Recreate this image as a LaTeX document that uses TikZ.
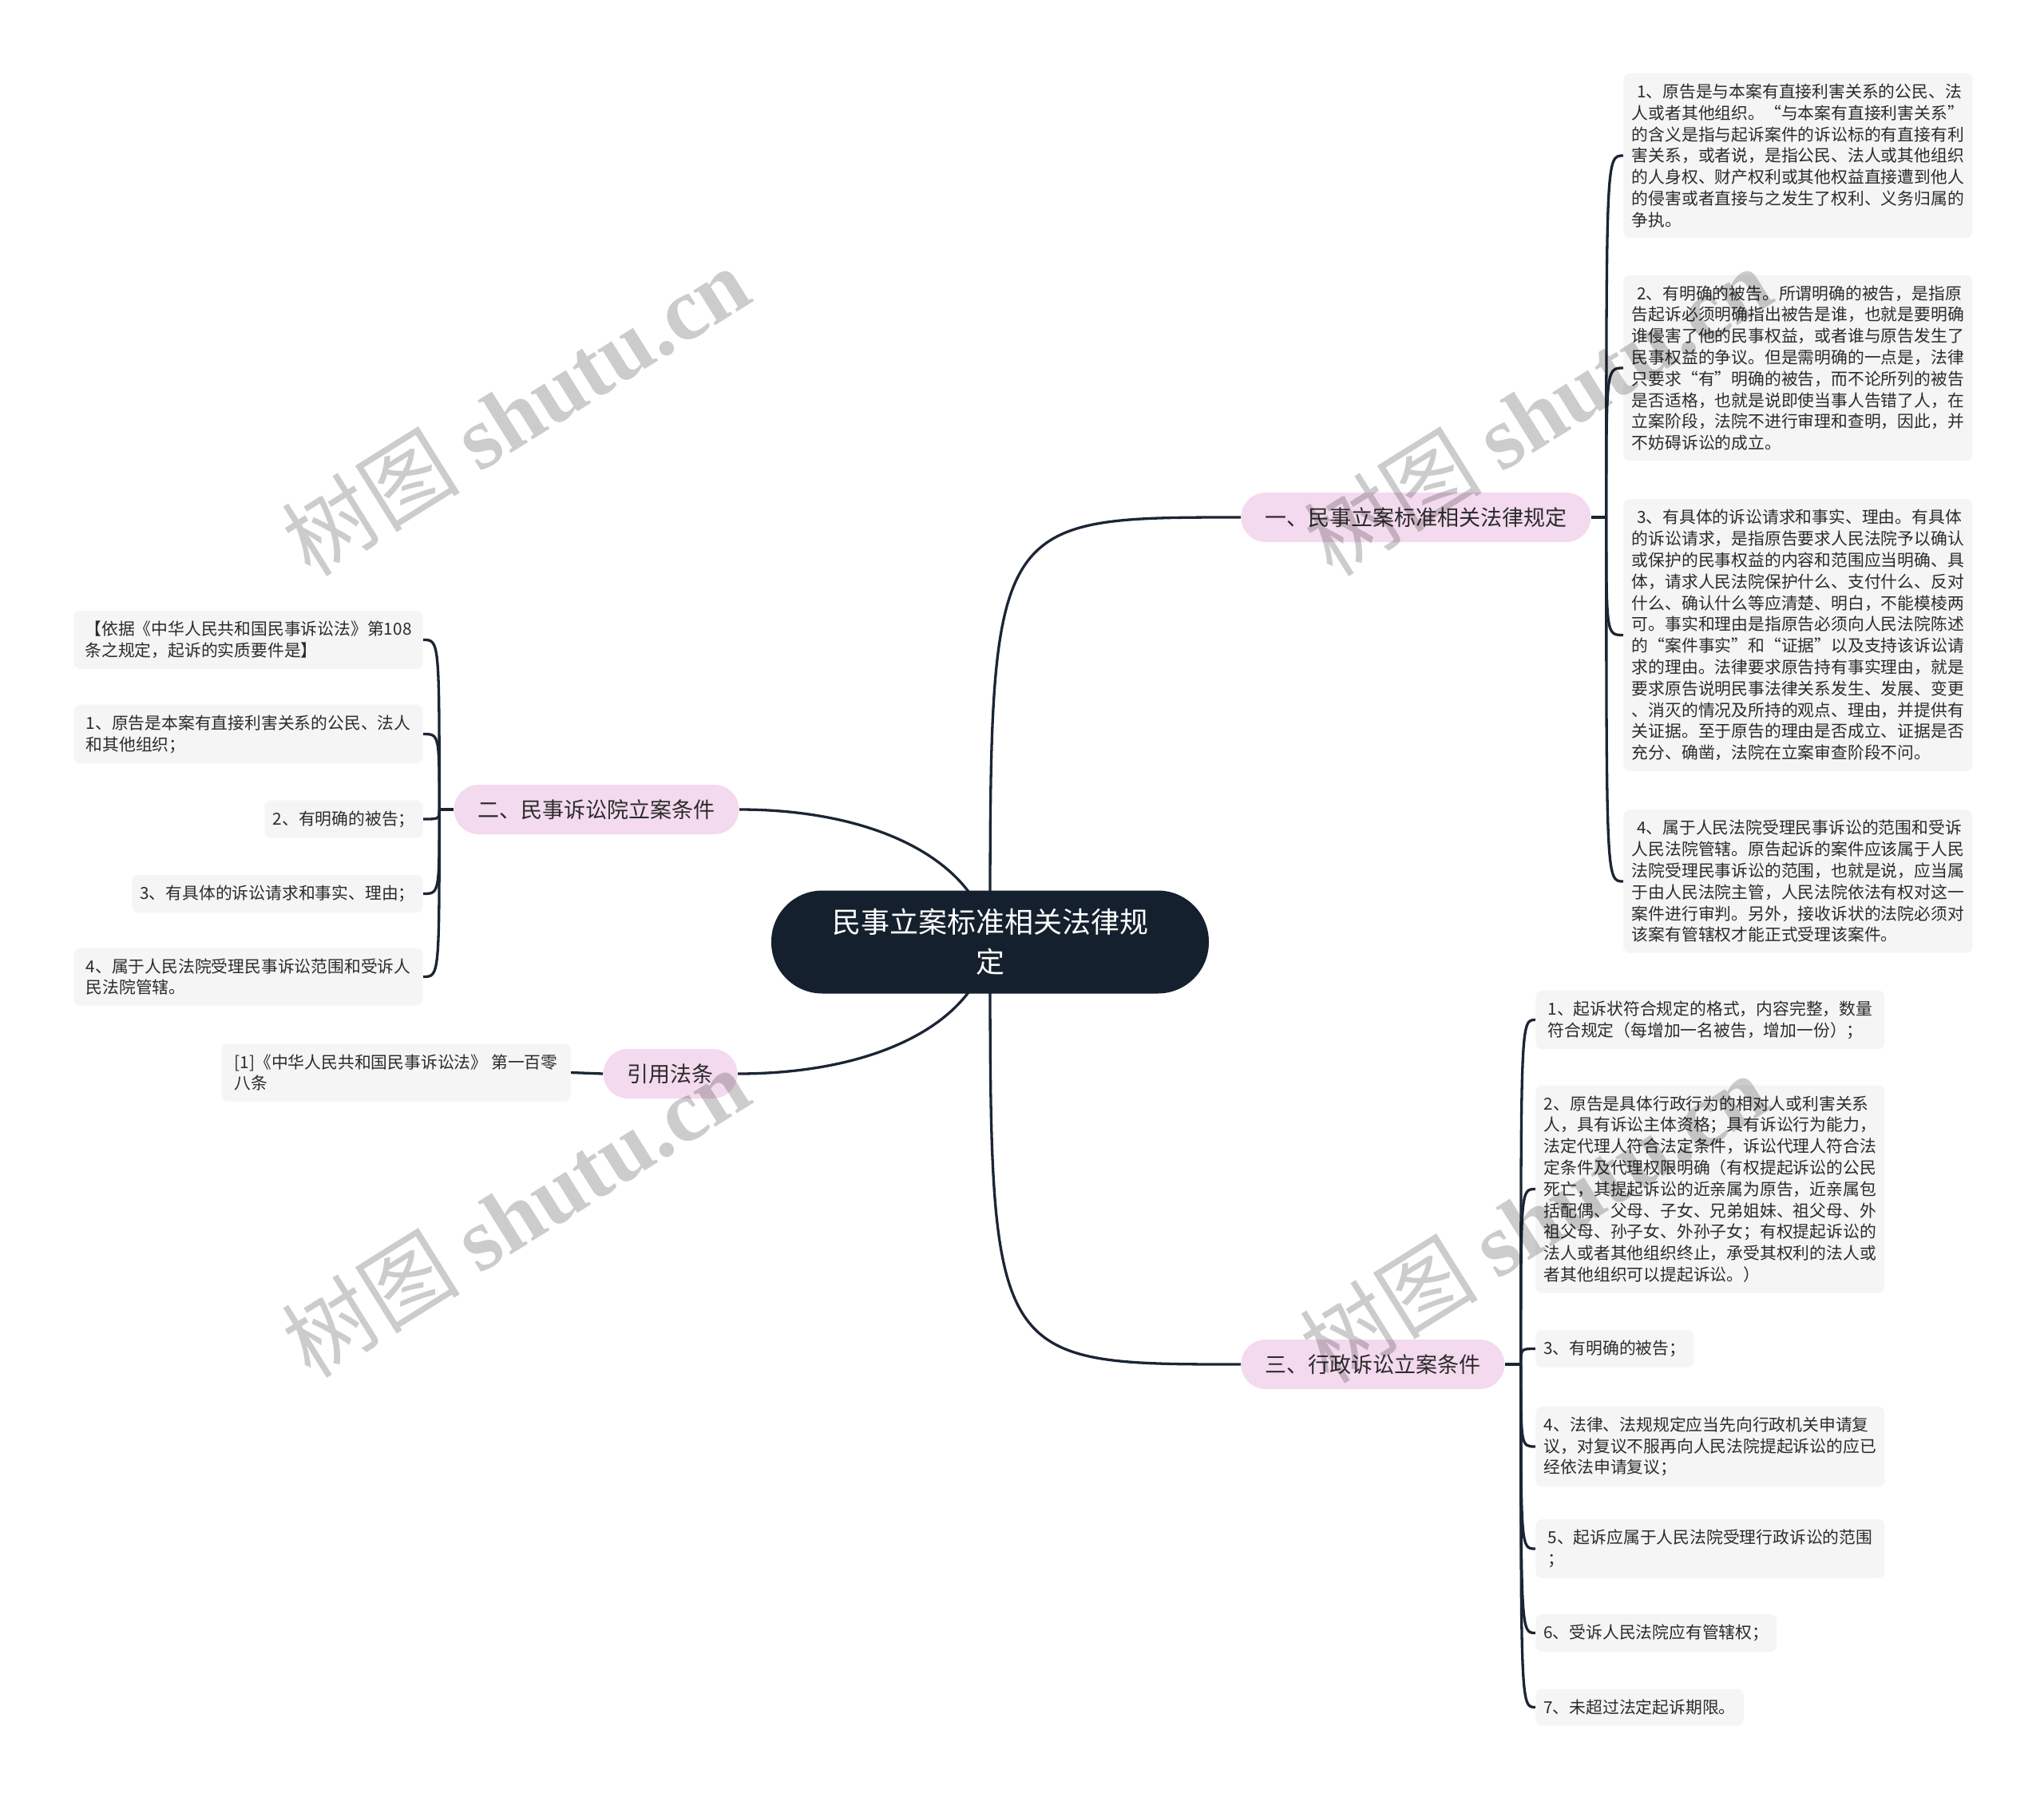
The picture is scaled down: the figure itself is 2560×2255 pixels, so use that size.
\documentclass[tikz,border=0pt]{standalone}
\usepackage{fontspec}
\setmainfont{Noto Sans CJK SC}
\newfontfamily\wmlatin{Liberation Serif}
\usetikzlibrary{calc,backgrounds}
\definecolor{rootnavy}{HTML}{15202E}
\definecolor{branchpink}{HTML}{F4DAEE}
\definecolor{leafgray}{HTML}{F5F5F5}
\definecolor{linecol}{HTML}{1B2535}
\definecolor{txt}{HTML}{2B2B2B}
\begin{document}
\begin{tikzpicture}[x=0.5pt,y=-0.5pt,
  root/.style={fill=rootnavy, rounded corners=32pt, minimum width=274pt, minimum height=64.5pt,
    align=center, text=white, font=\fontsize{18pt}{25pt}\selectfont},
  branch/.style={fill=branchpink, rounded corners=15.5pt, minimum height=31pt, inner xsep=15pt,
    inner ysep=0pt, text=txt, font=\fontsize{13.5pt}{16pt}\selectfont},
  leaf/.style={fill=leafgray, rounded corners=4pt, inner xsep=5pt, inner ysep=6.5pt, align=left,
    text=txt, font=\fontsize{10.4pt}{13.4pt}\selectfont},
  leafw/.style={minimum width=218.5pt},
  conn/.style={draw=linecol, line width=1.65pt},
  wm/.style={text=black, opacity=0.2, rotate=32, font=\fontsize{56pt}{64pt}\selectfont}
]
\useasboundingbox (0,0) rectangle (2560,2255);

% root and main branches
\node[root] (root) at (1240,1180) {民事立案标准相关法律规\\定};
\node[branch, anchor=west] (b1) at (1554,648) {一、民事立案标准相关法律规定};
\node[branch, anchor=east] (b2) at (926,1014) {二、民事诉讼院立案条件};
\node[branch, anchor=east] (b4) at (924,1345) {引用法条};
\node[branch, anchor=west] (b3) at (1554,1709) {三、行政诉讼立案条件};

% branch 1 leaves
\node[leaf, leafw, anchor=west] (l1a) at (2033,195) {\hspace*{0.3em}1、原告是与本案有直接利害关系的公民、法\\人或者其他组织。“与本案有直接利害关系”\\的含义是指与起诉案件的诉讼标的有直接有利\\害关系，或者说，是指公民、法人或其他组织\\的人身权、财产权利或其他权益直接遭到他人\\的侵害或者直接与之发生了权利、义务归属的\\争执。};
\node[leaf, leafw, anchor=west] (l1b) at (2033,461) {\hspace*{0.3em}2、有明确的被告。所谓明确的被告，是指原\\告起诉必须明确指出被告是谁，也就是要明确\\谁侵害了他的民事权益，或者谁与原告发生了\\民事权益的争议。但是需明确的一点是，法律\\只要求“有”明确的被告，而不论所列的被告\\是否适格，也就是说即使当事人告错了人，在\\立案阶段，法院不进行审理和查明，因此，并\\不妨碍诉讼的成立。};
\node[leaf, leafw, anchor=west] (l1c) at (2033,795.5) {\hspace*{0.3em}3、有具体的诉讼请求和事实、理由。有具体\\的诉讼请求，是指原告要求人民法院予以确认\\或保护的民事权益的内容和范围应当明确、具\\体，请求人民法院保护什么、支付什么、反对\\什么、确认什么等应清楚、明白，不能模棱两\\可。事实和理由是指原告必须向人民法院陈述\\的“案件事实”和“证据”以及支持该诉讼请\\求的理由。法律要求原告持有事实理由，就是\\要求原告说明民事法律关系发生、发展、变更\\、消灭的情况及所持的观点、理由，并提供有\\关证据。至于原告的理由是否成立、证据是否\\充分、确凿，法院在立案审查阶段不问。};
\node[leaf, leafw, anchor=west] (l1d) at (2033,1104) {\hspace*{0.3em}4、属于人民法院受理民事诉讼的范围和受诉\\人民法院管辖。原告起诉的案件应该属于人民\\法院受理民事诉讼的范围，也就是说，应当属\\于由人民法院主管，人民法院依法有权对这一\\案件进行审判。另外，接收诉状的法院必须对\\该案有管辖权才能正式受理该案件。};

% branch 2 leaves
\node[leaf, leafw, anchor=east] (l2a) at (530,801.5) {【依据《中华人民共和国民事诉讼法》第108\\条之规定，起诉的实质要件是】};
\node[leaf, leafw, anchor=east] (l2b) at (530,919.5) {1、原告是本案有直接利害关系的公民、法人\\和其他组织；};
\node[leaf, anchor=east] (l2c) at (530,1026) {2、有明确的被告；};
\node[leaf, anchor=east] (l2d) at (530,1119.5) {3、有具体的诉讼请求和事实、理由；};
\node[leaf, leafw, anchor=east] (l2e) at (530,1223.5) {4、属于人民法院受理民事诉讼范围和受诉人\\民法院管辖。};

% citation leaf
\node[leaf, leafw, anchor=east] (l4a) at (715,1343.5) {[1]《中华人民共和国民事诉讼法》 第一百零\\八条};

% branch 3 leaves
\node[leaf, leafw, anchor=west] (l3a) at (1923,1277.5) {1、起诉状符合规定的格式，内容完整，数量\\符合规定（每增加一名被告，增加一份）；};
\node[leaf, leafw, anchor=west] (l3b) at (1923,1489.5) {2、原告是具体行政行为的相对人或利害关系\\人，具有诉讼主体资格；具有诉讼行为能力，\\法定代理人符合法定条件，诉讼代理人符合法\\定条件及代理权限明确（有权提起诉讼的公民\\死亡，其提起诉讼的近亲属为原告，近亲属包\\括配偶、父母、子女、兄弟姐妹、祖父母、外\\祖父母、孙子女、外孙子女；有权提起诉讼的\\法人或者其他组织终止，承受其权利的法人或\\者其他组织可以提起诉讼。）};
\node[leaf, anchor=west] (l3c) at (1923,1689.5) {3、有明确的被告；};
\node[leaf, leafw, anchor=west] (l3d) at (1923,1812) {4、法律、法规规定应当先向行政机关申请复\\议，对复议不服再向人民法院提起诉讼的应已\\经依法申请复议；};
\node[leaf, leafw, anchor=west] (l3e) at (1923,1940) {5、起诉应属于人民法院受理行政诉讼的范围\\；};
\node[leaf, anchor=west] (l3f) at (1923,2045.5) {6、受诉人民法院应有管辖权；};
\node[leaf, anchor=west] (l3g) at (1923,2138.5) {7、未超过法定起诉期限。};

% junctions
\coordinate (j1) at ($(b1.east)+(19,0)$);
\coordinate (j2) at ($(b2.west)+(-18,0)$);
\coordinate (j3) at ($(b3.east)+(20,0)$);

\begin{scope}[on background layer]
  \fill[white] (0,0) rectangle (2560,2255);
  \draw[conn] (root.center) .. controls (root.center |- b1.west) and (root.center |- b1.west) .. (b1.west);
  \draw[conn] (root.center) .. controls ($(root.center)+(-15,-100)$) and ($(b2.east)+(174,0)$) .. (b2.east);
  \draw[conn] (root.center) .. controls ($(root.center)+(-15,100)$) and ($(b4.east)+(176,0)$) .. (b4.east);
  \draw[conn] (root.center) .. controls (root.center |- b3.west) and (root.center |- b3.west) .. (b3.west);

  \draw[conn] (b1.east) -- (j1);
  \foreach \n in {l1a,l1b,l1c,l1d}
    \draw[conn] (j1) .. controls (j1 |- \n.west) and (j1 |- \n.west) .. (\n.west);

  \draw[conn] (b2.west) -- (j2);
  \foreach \n in {l2a,l2b,l2c,l2d,l2e}
    \draw[conn] (j2) .. controls (j2 |- \n.east) and (j2 |- \n.east) .. (\n.east);

  \draw[conn] (b4.west) -- (l4a.east);

  \draw[conn] (b3.east) -- (j3);
  \foreach \n in {l3a,l3b,l3c,l3d,l3e,l3f,l3g}
    \draw[conn] (j3) .. controls (j3 |- \n.west) and (j3 |- \n.west) .. (\n.west);
\end{scope}

% watermarks
\node[wm] (wm1) at (645,514) {树图 {\wmlatin\bfseries shutu.cn}};
\node[wm] (wm2) at (1925,514) {树图 {\wmlatin\bfseries shutu.cn}};
\node[wm] (wm3) at (645,1518) {树图 {\wmlatin\bfseries shutu.cn}};
\node[wm] (wm4) at (1920,1525) {树图 {\wmlatin\bfseries shutu.cn}};
\end{tikzpicture}
\end{document}
